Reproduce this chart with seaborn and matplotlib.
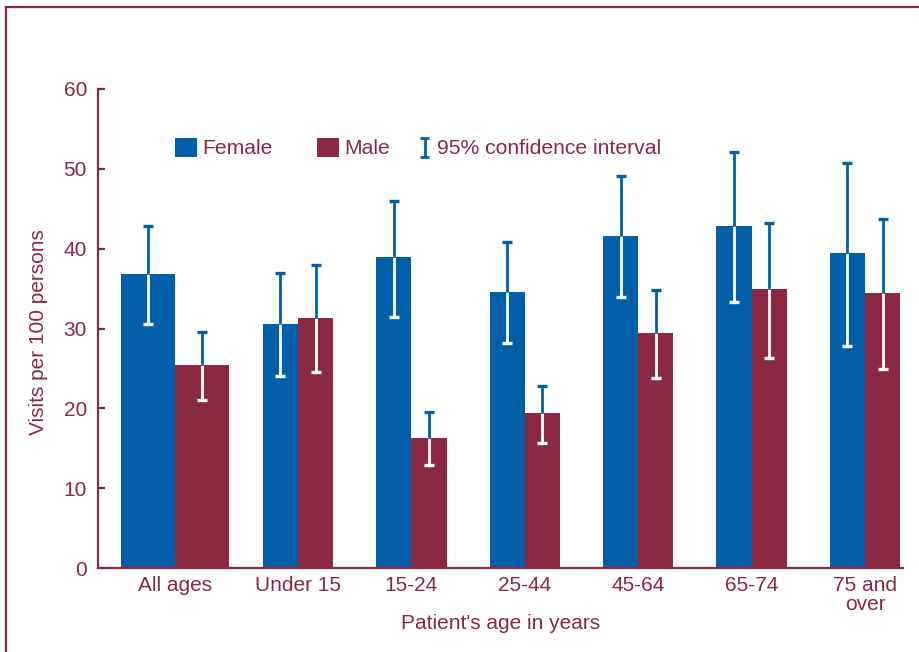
import matplotlib
matplotlib.use('Agg')
import matplotlib.pyplot as plt
import seaborn as sns
import pandas as pd
from matplotlib.patches import Patch, Rectangle
from matplotlib.legend_handler import HandlerBase
from matplotlib.lines import Line2D

# ---- data ----
age_groups = ["All ages", "Under 15", "15-24", "25-44", "45-64", "65-74", "75 and\nover"]
female = [36.8, 30.6, 38.9, 34.6, 41.6, 42.8, 39.5]
female_lo = [30.6, 24.0, 31.5, 28.2, 33.9, 33.3, 27.8]
female_hi = [42.8, 37.0, 46.0, 40.8, 49.1, 52.1, 50.7]
male = [25.4, 31.3, 16.3, 19.4, 29.4, 34.9, 34.4]
male_lo = [21.0, 24.5, 12.9, 15.7, 23.8, 26.3, 24.9]
male_hi = [29.6, 37.9, 19.5, 22.8, 34.8, 43.2, 43.7]
y_ticks = [0, 10, 20, 30, 40, 50, 60]
sexes = ["Female", "Male"]

BLUE = '#005FA8'
MAROON = '#8B2942'

sns.set_theme(style='white')
plt.rcParams['font.family'] = ['Liberation Sans', 'DejaVu Sans']

df = pd.DataFrame({
    'age': age_groups * 2,
    'sex': [sexes[0]] * len(age_groups) + [sexes[1]] * len(age_groups),
    'visits': female + male,
})

W, H = 919, 652
fig = plt.figure(figsize=(W / 100, H / 100), dpi=100)
ax = fig.add_axes([98 / W, 1 - 568 / H, (903 - 98) / W, (568 - 89) / H])

sns.barplot(data=df, x='age', y='visits', hue='sex', order=age_groups,
            hue_order=sexes, palette={'Female': BLUE, 'Male': MAROON},
            width=0.62, gap=0, errorbar=None, saturation=1, legend=False,
            linewidth=0, edgecolor='none', ax=ax)

# the "All ages" group is drawn with wider bars, slightly left of its slot
first_center = -0.085
first_w = 0.476
fb = ax.containers[0].patches[0]
fb.set_x(first_center - first_w)
fb.set_width(first_w)
mb = ax.containers[1].patches[0]
mb.set_x(first_center)
mb.set_width(first_w)

# confidence intervals: blue above the bar top, white inside the bar
for cont, vals, lo, hi in [(ax.containers[0], female, female_lo, female_hi),
                           (ax.containers[1], male, male_lo, male_hi)]:
    xs = [p.get_x() + p.get_width() / 2 for p in cont.patches]
    ax.vlines(xs, lo, vals, colors='white', lw=2, zorder=4)
    ax.vlines(xs, vals, hi, colors=BLUE, lw=2, zorder=4)
    ax.plot(xs, lo, ls='none', marker='_', ms=7, mew=2.4, color='white', zorder=5)
    ax.plot(xs, hi, ls='none', marker='_', ms=7, mew=2.4, color=BLUE, zorder=5)

ax.set_xlim(-0.764, 6.335)
ax.set_ylim(0, 60)
ax.set_yticks(y_ticks)
ax.set_xticks([first_center] + list(range(1, len(age_groups))))
ax.set_xticklabels(age_groups)
for lab in ax.get_xticklabels():
    lab.set_linespacing(1.0)

for s in ['top', 'right']:
    ax.spines[s].set_visible(False)
for s in ['left', 'bottom']:
    ax.spines[s].set_color(MAROON)
    ax.spines[s].set_linewidth(1.6)
    ax.spines[s].set_zorder(6)

ax.tick_params(axis='y', direction='in', length=5, width=1.6, color=MAROON,
               labelcolor=MAROON, labelsize=15, pad=8, left=True)
ax.tick_params(axis='x', length=0, labelcolor=MAROON, labelsize=15, pad=6)

ax.set_ylabel("Visits per 100 persons", fontsize=15, color=MAROON)
ax.set_xlabel("Patient's age in years", fontsize=15, color=MAROON)
ax.yaxis.set_label_coords(-0.062, 0.492)
ax.xaxis.set_label_coords(0.5, -0.096)


class CIHandler(HandlerBase):
    def create_artists(self, legend, orig_handle, xdescent, ydescent,
                       width, height, fontsize, trans):
        cx = -xdescent + width / 2
        y0 = -ydescent
        y1 = -ydescent + height
        hw = 3.3
        kw = dict(color=BLUE, lw=2, transform=trans, solid_capstyle='butt')
        return [Line2D([cx, cx], [y0, y1], **kw),
                Line2D([cx - hw, cx + hw], [y0, y0], **kw),
                Line2D([cx - hw, cx + hw], [y1, y1], **kw)]


leg_y = 1 - 148 / H
leg1 = ax.legend(handles=[Patch(facecolor=BLUE, edgecolor='none', label='Female'),
                          Patch(facecolor=MAROON, edgecolor='none', label='Male')],
                 loc='center left', bbox_to_anchor=(175 / W, leg_y),
                 bbox_transform=fig.transFigure, ncol=2, frameon=False,
                 fontsize=15.2, handlelength=1.05, handleheight=1.05,
                 handletextpad=0.24, columnspacing=2.1, borderpad=0,
                 borderaxespad=0, labelcolor=MAROON)
ax.add_artist(leg1)
ci_handle = Line2D([], [], color=BLUE, label='95% confidence interval')
leg2 = ax.legend(handles=[ci_handle], handler_map={Line2D: CIHandler()},
                 loc='center left', bbox_to_anchor=(418 / W, leg_y),
                 bbox_transform=fig.transFigure, frameon=False,
                 fontsize=15.2, handlelength=0.62, handleheight=1.05,
                 handletextpad=0.26, borderpad=0, borderaxespad=0,
                 labelcolor=MAROON)

# outer frame (partly cut off at the right and bottom)
fig.patches.append(Rectangle((6 / W, -0.5), 2.0, 0.5 + 1 - 7 / H,
                             transform=fig.transFigure, fill=False,
                             ec=MAROON, lw=1.6))

fig.savefig('out.png', dpi=100)
